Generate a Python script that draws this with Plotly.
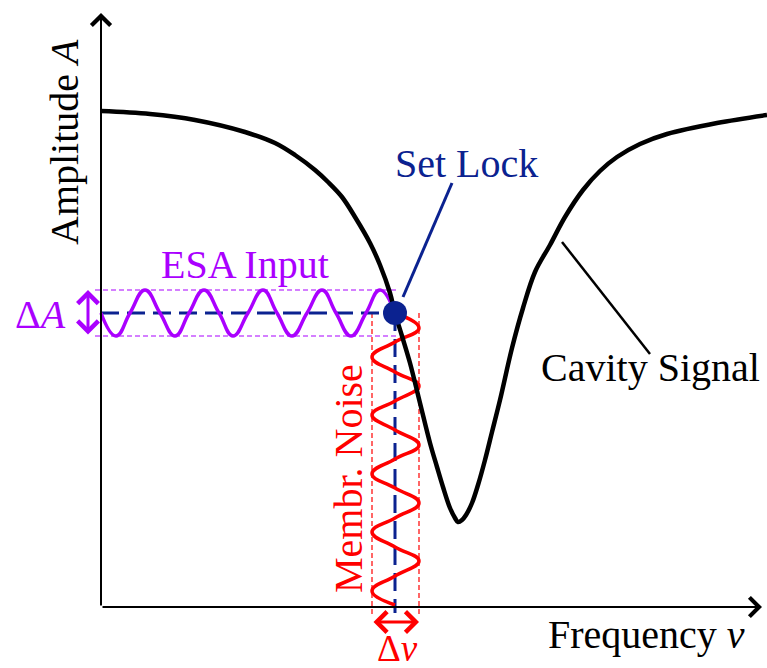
import plotly.graph_objects as go

# Coordinates: frequency offset (nu) and amplitude (A) measured from the axis origin
# Cavity transmission dip
CAVITY_NU = [0, 49, 94, 144, 174, 194, 214, 227, 241, 254,
             269, 279, 289, 294, 301, 309, 319, 329, 336, 342,
             349, 354, 357, 361, 365, 371, 377, 384, 391, 399,
             411, 422, 434, 449, 464, 482, 499, 516, 539, 566,
             616, 666]
CAVITY_A = [496, 493, 487, 475, 464, 452, 437, 425, 410, 390,
            364, 342, 314, 294, 271, 244, 204, 164, 140, 120,
            99, 89, 85, 87, 92, 104, 122, 147, 175, 207,
            259, 299, 335, 362, 390, 417, 436, 450, 463, 473,
            484, 492]

# Lock point on the cavity slope
LOCK_NU = 294
LOCK_A = 294

# Amplitude modulation seen at the ESA input (horizontal wave)
ESA_NU = [0, 15, 29, 44, 59, 74, 88, 103, 118, 132, 147, 162, 176, 191, 206, 221,
          235, 250, 265, 279, 294]
ESA_A = [294, 271, 294, 317, 294, 271, 294, 317, 294, 271, 294, 317, 294, 271, 294,
         317, 294, 271, 294, 317, 294]
ESA_BAND = [271, 317]          # extent of the amplitude swing (Delta A)

# Membrane frequency noise (vertical wave)
MEMBR_A = [294, 279, 265, 250, 235, 221, 206, 192, 177, 162, 148, 133, 119, 104, 89,
           75, 60, 46, 31, 16, 2]
MEMBR_NU = [294, 318, 294, 271, 294, 318, 294, 271, 294, 318, 294, 271, 294, 318, 294,
            271, 294, 318, 294, 271, 294]
MEMBR_BAND = [271, 318]        # extent of the frequency swing (Delta nu)

BLACK = "#000000"
PURPLE = "#aa00ff"
RED = "#ff0000"
BLUE = "#0b2290"
FONT = "Liberation Serif"
FS = 40

fig = go.Figure()


def seg(x, y, color, width, dash="solid"):
    fig.add_trace(go.Scatter(x=x, y=y, mode="lines", hoverinfo="skip",
                             line=dict(color=color, width=width, dash=dash)))


# thin dashed guides bounding the two swings
for a in ESA_BAND:
    seg([-6, LOCK_NU + 2], [a, a], PURPLE, 1.2, "5px,3px")
for nu in MEMBR_BAND:
    seg([nu, nu], [LOCK_A, -8], RED, 1.2, "5px,3px")

# projections of the lock point onto both axes
seg([0, LOCK_NU], [LOCK_A, LOCK_A], BLUE, 3, "18px,8px")
seg([LOCK_NU, LOCK_NU], [LOCK_A, -6], BLUE, 3, "18px,8px")

# modulation waves
fig.add_trace(go.Scatter(x=ESA_NU, y=ESA_A, mode="lines", hoverinfo="skip",
                         line=dict(color=PURPLE, width=3.5, shape="spline", smoothing=1.3)))
fig.add_trace(go.Scatter(x=MEMBR_NU, y=MEMBR_A, mode="lines", hoverinfo="skip",
                         line=dict(color=RED, width=3.5, shape="spline", smoothing=1.3)))

# cavity signal
fig.add_trace(go.Scatter(x=CAVITY_NU, y=CAVITY_A, mode="lines", hoverinfo="skip",
                         line=dict(color=BLACK, width=4.5, shape="spline", smoothing=1.0)))

# label leader lines
seg([302, 351], [310, 424], BLUE, 3)
seg([461, 549], [365, 253], BLACK, 2.5)

# lock point marker
fig.add_trace(go.Scatter(x=[LOCK_NU], y=[LOCK_A], mode="markers", hoverinfo="skip",
                         marker=dict(color=BLUE, size=24, line=dict(width=0))))


def arrow(x0, y0, x1, y1, color, width, size, side="end"):
    return dict(x=x1, y=y1, ax=x0, ay=y0, xref="x", yref="y", axref="x", ayref="y",
                text="", showarrow=True, arrowhead=4, startarrowhead=4,
                arrowside=side, arrowwidth=width, arrowsize=size,
                startarrowsize=size, arrowcolor=color, standoff=0, startstandoff=0)


def label(x, y, text, color, angle=0, size=FS):
    return dict(x=x, y=y, xref="x", yref="y", text=text, showarrow=False,
                textangle=angle, xanchor="center", yanchor="middle",
                font=dict(family=FONT, size=size, color=color))


annotations = [
    arrow(0, 0, 661, 0, BLACK, 2, 1.85),
    arrow(0, 0, 0, 594, BLACK, 2, 1.85),
    arrow(-13, ESA_BAND[0], -13, ESA_BAND[1], PURPLE, 3, 1.33, "end+start"),
    arrow(MEMBR_BAND[0], -15, MEMBR_BAND[1], -15, RED, 3, 1.33, "end+start"),
    label(365, 444, "Set Lock", BLUE),
    label(144, 343, "ESA Input", PURPLE),
    label(-61, 293, "Δ<i>A</i>", PURPLE),
    label(549, 240, "Cavity Signal", BLACK),
    label(545, -27, "Frequency <i>ν</i>", BLACK),
    label(296, -41, "Δ<i>ν</i>", RED, size=37),
    label(247, 128, "Membr. Noise", RED, -90),
    label(-37, 465, "Amplitude <i>A</i>", BLACK, -90),
]

fig.update_layout(
    width=767, height=668,
    margin=dict(l=0, r=0, t=0, b=0),
    paper_bgcolor="white", plot_bgcolor="white",
    showlegend=False,
    annotations=annotations,
    xaxis=dict(range=[-101, 666], visible=False, fixedrange=True),
    yaxis=dict(range=[-61, 607], visible=False, fixedrange=True),
)

fig.write_html("out.html")
